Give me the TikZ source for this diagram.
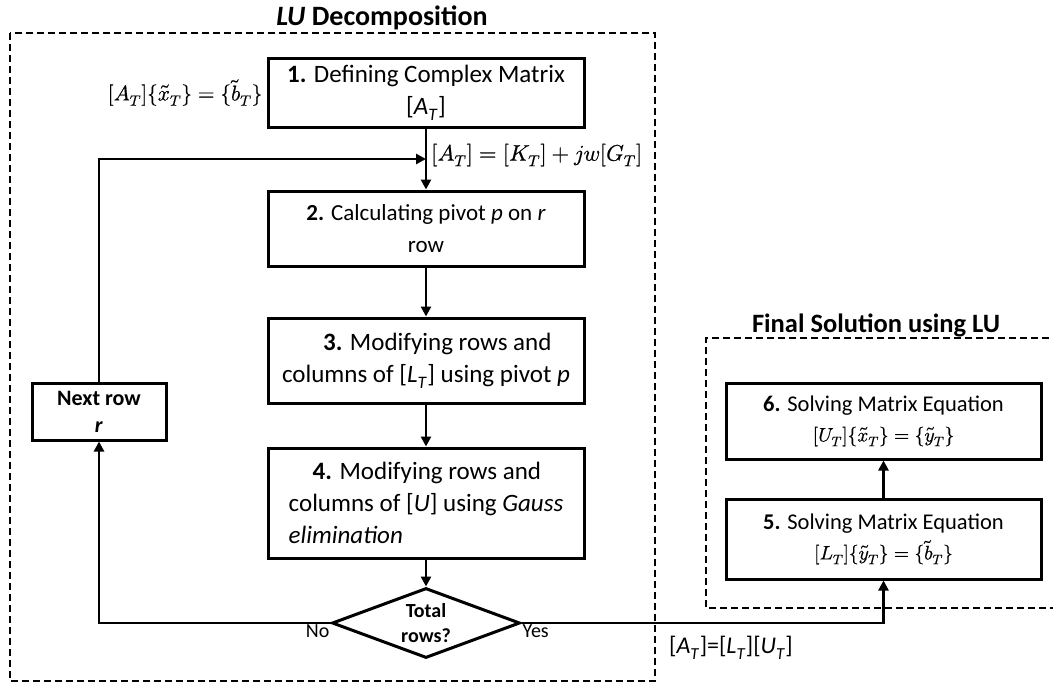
\documentclass[tikz,border=0pt]{standalone}
\usepackage{fontspec}
\usepackage{unicode-math}
\setmainfont{Carlito}
\setmathfont{Latin Modern Math}[FakeBold=0.6]
\usetikzlibrary{shapes.geometric,arrows.meta}
\newcommand{\subT}[1]{\textit{#1}\textsubscript{\textit{T}}}
\newcommand{\eqsize}{\fontsize{19.5}{30}\selectfont}
\begin{document}
\begin{tikzpicture}[x=1pt,y=-1pt,
  box/.style={draw, line width=3pt, minimum width=316pt, inner sep=0pt,
    align=center, font=\fontsize{25}{32}\selectfont},
  lbox/.style={box, align=left},
  conn/.style={line width=2.5pt, -{Triangle[length=10pt,width=10pt]}},
  frame/.style={line width=2pt, dash pattern=on 7pt off 4pt},
  title/.style={font=\bfseries\fontsize{28}{32}\selectfont, anchor=base},
  lbl/.style={font=\fontsize{22.5}{26}\selectfont, inner sep=1pt},
  small/.style={font=\fontsize{20}{24}\selectfont, inner sep=1pt}
]
\useasboundingbox (0,0) rectangle (1053,683);
\fill[white] (0,0) rectangle (1053,683);

% dashed group frames
\draw[frame] (10,33) rectangle (655,681);
\draw[frame] (1060,338) -- (706,338) -- (706,608) -- (1060,608);
\node[title] (tlu) at (382,25) {\textit{LU} Decomposition};
\node[title, font=\bfseries\fontsize{26.5}{30}\selectfont] (tfs) at (876,332)
  {Final Solution using LU};

% LU decomposition steps
\node[box, minimum height=69pt] (b1) at (426,92.5)
  {\textbf{1.} Defining Complex Matrix\\{[}\subT{A}]};
\node[box, minimum height=75pt, font=\fontsize{23}{32}\selectfont] (b2) at (426,228.5)
  {\textbf{2.} Calculating pivot \textit{p} on \textit{r}\\row};
\node[lbox, minimum height=85pt] (b3) at (426,360.5)
  {\hspace*{1.64em}\textbf{3.} Modifying rows and\\columns of [\subT{L}] using pivot \textit{p}};
\node[lbox, minimum height=110pt] (b4) at (426,503)
  {\hspace*{0.96em}\textbf{4.} Modifying rows and\\columns of [\textit{U}] using \textit{Gauss}\\\textit{elimination}};
\node[draw, line width=3pt, shape=diamond, inner sep=0pt, aspect=2.69,
  minimum width=188pt, minimum height=70pt] (dia) at (426,623) {};
\node[font=\bfseries\fontsize{20}{25}\selectfont, align=center] (diat) at (dia.center)
  {Total\\rows?};
\node[box, minimum width=134pt, minimum height=57pt,
  font=\bfseries\fontsize{22}{27}\selectfont] (nx) at (99,411.5)
  {Next row\\\textit{r}};

% final solution steps
\node[box, minimum width=315pt, minimum height=76pt,
  font=\fontsize{22.5}{30}\selectfont] (b6) at (883.5,421)
  {\textbf{6.} Solving Matrix Equation\\{\eqsize$[U_T]\{\tilde{x}_T\}=\{\tilde{y}_T\}$}};
\node[box, minimum width=315pt, minimum height=80pt,
  font=\fontsize{22.5}{30}\selectfont] (b5) at (883.5,539)
  {\textbf{5.} Solving Matrix Equation\\{\eqsize$[L_T]\{\tilde{y}_T\}=\{\tilde{b}_T\}$}};

% labels
\node[lbl, font=\fontsize{21.3}{26}\selectfont, anchor=east, xshift=-3pt] (eqa) at (b1.west)
  {$[A_T]\{\tilde{x}_T\}=\{\tilde{b}_T\}$};
\node[lbl, anchor=west] (eqk) at (430,155) {$[A_T]=[K_T]+jw[G_T]$};
\node[small, anchor=north east] (no) at (dia.west) {No};
\node[small, anchor=north west] (yes) at (dia.east) {Yes};
\node[lbl, font=\fontsize{24}{28}\selectfont, anchor=west] (eqlu) at (668,648)
  {[\subT{A}]=[\subT{L}][\subT{U}]};

% connectors
\coordinate (j) at (426,159);
\draw[conn] (b1.south) -- (b2.north);
\draw[conn] (nx.north) |- (j);
\draw[conn] (b2.south) -- (b3.north);
\draw[conn] (b3.south) -- (b4.north);
\draw[conn] (b4.south) -- (dia.north);
\draw[conn] (dia.west) -| (nx.south);
\draw[conn, line width=2.2pt] (dia.east) -| (b5.south);
\draw[conn] (b5.north) -- (b6.south);
\end{tikzpicture}
\end{document}
